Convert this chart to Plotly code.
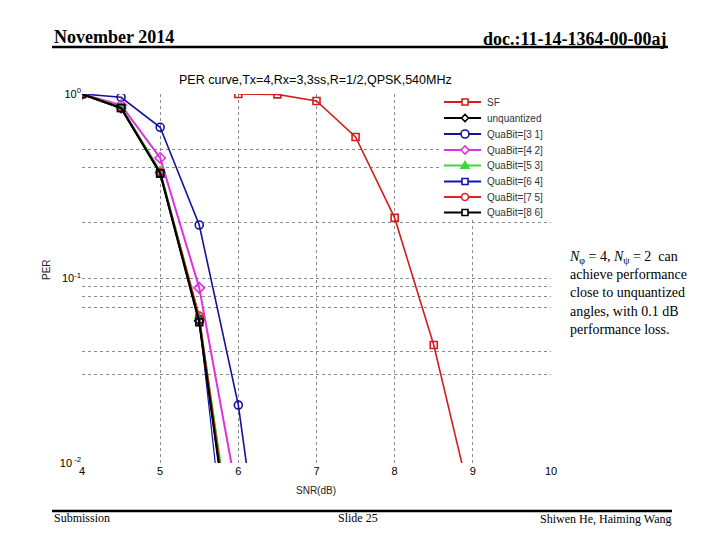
import plotly.graph_objects as go

# ---------------- data ----------------
snr_sf = [6, 6.5, 7, 7.5, 8, 8.5, 9]
per_sf = [1.0, 0.995, 0.917, 0.585, 0.213, 0.0436, 0.0056]

snr_q = [4, 4.5, 5, 5.5, 6, 6.5]
per_unq = [1.0, 0.84, 0.375, 0.059, 0.0018, 0.00005]
per_q31 = [1.0, 0.96, 0.66, 0.195, 0.0206, 0.0006]
per_q42 = [1.0, 0.87, 0.45, 0.089, 0.0062, 0.0003]
per_q53 = [1.0, 0.85, 0.385, 0.062, 0.0022, 0.00006]
per_q64 = [1.0, 0.84, 0.37, 0.060, 0.00075, 0.00002]
per_q75 = [1.0, 0.84, 0.378, 0.063, 0.0020, 0.00006]
per_q86 = [1.0, 0.84, 0.372, 0.058, 0.0017, 0.00005]

series_names = ["SF", "unquantized", "QuaBit=[3 1]", "QuaBit=[4 2]",
                "QuaBit=[5 3]", "QuaBit=[6 4]", "QuaBit=[7 5]", "QuaBit=[8 6]"]

x_ticks = [4, 5, 6, 7, 8, 9, 10]
y_ticks = [0.01, 0.1, 1]
y_ticktext = ["10<sup> -2</sup>", "10<sup>-1</sup>", "10<sup>0</sup>"]
y_grid = [0.5, 0.4, 0.2, 0.1, 0.09, 0.08, 0.07, 0.04, 0.03]
x_grid = [5, 6, 7, 8, 9]

# ---------------- styles ----------------
styles = [
    ("#d41c1c", "square-open", 1.6, 7),
    ("#000000", "diamond-open", 2.2, 7),
    ("#12129a", "circle-open", 1.6, 8),
    ("#e030e0", "diamond-open", 2.0, 8),
    ("#3cd83c", "triangle-up", 1.6, 8),
    ("#1414b4", "square-open", 1.2, 7),
    ("#e02424", "circle-open", 1.2, 7),
    ("#000000", "square-open", 2.2, 7),
]
xs_all = [snr_sf] + [snr_q] * 7
ys_all = [per_sf, per_unq, per_q31, per_q42, per_q53, per_q64, per_q75, per_q86]

# screen geometry (browser body has an 8px margin)
OFF = 8
PL, PR, PT, PB = 82, 551, 94, 463
PW, PH = PR - PL, PB - PT


def u(X):
    return (X - PL) / PW


def v(Y):
    return (PB - Y) / PH


fig = go.Figure()
for name, xs, ys, (col, sym, lw, ms) in zip(series_names, xs_all, ys_all, styles):
    fig.add_trace(go.Scatter(
        x=xs, y=ys, name=name, mode="lines+markers", showlegend=False,
        line=dict(color=col, width=lw),
        marker=dict(symbol=sym, size=ms, color=col, line=dict(color=col, width=1.6)),
    ))

# ---------------- hand-drawn legend (shapes above the grid) ----------------
fig.add_shape(type="rect", xref="paper", yref="paper", layer="above",
              x0=u(441), x1=u(553), y0=v(219), y1=v(86),
              fillcolor="white", line=dict(width=0))

leg_rows = [102, 118, 134, 150, 165.5, 181.5, 197, 212.5]
MX = 465
for name, Y, (col, sym, lw, ms) in zip(series_names, leg_rows, styles):
    fig.add_shape(type="line", xref="paper", yref="paper", layer="above",
                  x0=u(444), x1=u(481), y0=v(Y), y1=v(Y),
                  line=dict(color=col, width=max(lw, 1.8)))
    r = ms / 2
    mline = dict(color=col, width=1.6)
    if sym == "square-open":
        fig.add_shape(type="rect", xref="paper", yref="paper", layer="above",
                      x0=u(MX - r + 0.5), x1=u(MX + r - 0.5), y0=v(Y + r - 0.5), y1=v(Y - r + 0.5),
                      fillcolor="white", line=mline)
    elif sym == "circle-open":
        fig.add_shape(type="circle", xref="paper", yref="paper", layer="above",
                      x0=u(MX - r), x1=u(MX + r), y0=v(Y + r), y1=v(Y - r),
                      fillcolor="white", line=mline)
    elif sym == "diamond-open":
        p = (f"M {u(MX - r)} {v(Y)} L {u(MX)} {v(Y - r)} L {u(MX + r)} {v(Y)} "
             f"L {u(MX)} {v(Y + r)} Z")
        fig.add_shape(type="path", xref="paper", yref="paper", layer="above",
                      path=p, fillcolor="white", line=mline)
    elif sym == "triangle-up":
        p = f"M {u(MX - r)} {v(Y + r * 0.7)} L {u(MX)} {v(Y - r)} L {u(MX + r)} {v(Y + r * 0.7)} Z"
        fig.add_shape(type="path", xref="paper", yref="paper", layer="above",
                      path=p, fillcolor=col, line=mline)
    fig.add_annotation(xref="paper", yref="paper", x=u(485), y=v(Y),
                       xanchor="left", yanchor="middle", showarrow=False, text=name,
                       font=dict(family="Liberation Sans, Arial", size=10, color="#333333"))

grid_col = "#8a8a8a"
fig.update_layout(
    width=720, height=540,
    paper_bgcolor="white", plot_bgcolor="white",
    margin=dict(l=PL - OFF, r=720 - (PR - OFF), t=PT - OFF, b=540 - (PB - OFF)),
    font=dict(family="Liberation Sans, Arial", size=11, color="black"),
    showlegend=False,
    xaxis=dict(
        range=[4, 10], tickvals=x_ticks, ticks="", showgrid=False,
        zeroline=False, showline=False,
        tickfont=dict(size=11, color="black"),
        minor=dict(tickvals=x_grid, showgrid=True, griddash="dot",
                   gridcolor=grid_col, gridwidth=1, ticks=""),
    ),
    yaxis=dict(
        type="log", range=[-2, 0], tickvals=y_ticks, ticktext=y_ticktext,
        ticks="", showgrid=False, zeroline=False, showline=False,
        tickfont=dict(size=11, color="black"),
        minor=dict(tickvals=y_grid, showgrid=True, griddash="dot",
                   gridcolor=grid_col, gridwidth=1, ticks=""),
    ),
)

serif = "Liberation Serif, Times New Roman"
sans = "Liberation Sans, Arial"
ann = [
    dict(text="PER curve,Tx=4,Rx=3,3ss,R=1/2,QPSK,540MHz", x=315, y=80,
         font=dict(family=sans, size=12.5, color="black")),
    dict(text="SNR(dB)", x=316, y=490, font=dict(family=sans, size=10, color="#222")),
    dict(text="PER", x=46, y=270, textangle=-90, font=dict(family=sans, size=10, color="#222")),
    dict(text="<b>November 2014</b>", x=52, y=37, xanchor="left",
         font=dict(family=serif, size=18, color="black")),
    dict(text="<b>doc.:11-14-1364-00-00aj</b>", x=668, y=39, xanchor="right",
         font=dict(family=serif, size=18, color="black")),
    dict(text="Submission", x=52, y=518, xanchor="left",
         font=dict(family=serif, size=12, color="black")),
    dict(text="Slide 25", x=358, y=518, font=dict(family=serif, size=12, color="black")),
    dict(text="Shiwen He, Haiming Wang", x=673, y=519, xanchor="right",
         font=dict(family=serif, size=12, color="black")),
    dict(text="<i>N</i><sub>φ</sub> = 4, <i>N</i><sub>ψ</sub> = 2  can<br>achieve performance<br>"
              "close to unquantized<br>angles, with 0.1 dB<br>performance loss.",
         x=567, y=293, xanchor="left", align="left",
         font=dict(family=serif, size=14, color="black")),
]
for a in ann:
    a.setdefault("xanchor", "center")
    fig.add_annotation(xref="paper", yref="paper", showarrow=False,
                       x=u(a.pop("x")), y=v(a.pop("y")), yanchor="middle", **a)

# header / footer rules
fig.add_shape(type="line", xref="paper", yref="paper", x0=u(52), x1=u(668),
              y0=v(47), y1=v(47), line=dict(color="black", width=2.5))
fig.add_shape(type="line", xref="paper", yref="paper", x0=u(52), x1=u(672),
              y0=v(511), y1=v(511), line=dict(color="black", width=2.5))

fig.write_html("out.html")
